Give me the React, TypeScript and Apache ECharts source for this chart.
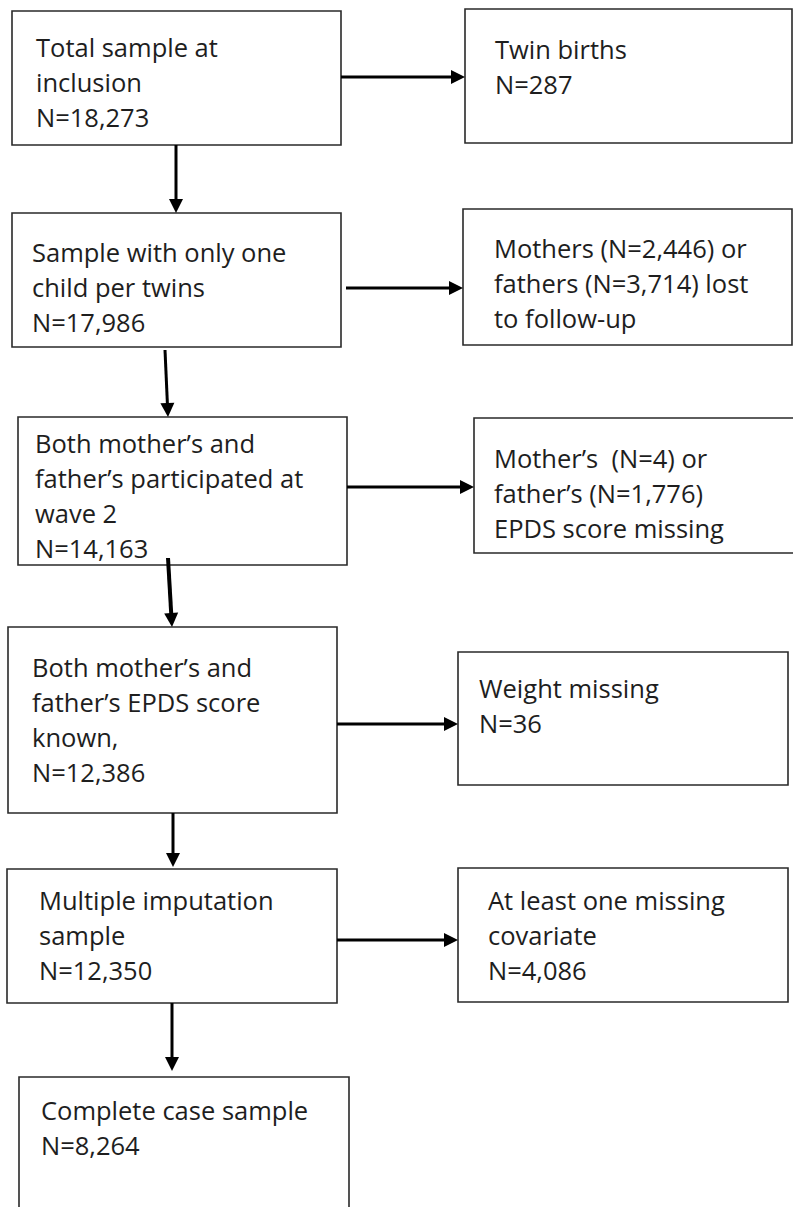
import React, { useEffect, useRef } from "react";
import * as echarts from "echarts";

// ---- data ----
const mainLabels = [
  "Total sample at\ninclusion",
  "Sample with only one\nchild per twins",
  "Both mother’s and\nfather’s participated at\nwave 2",
  "Both mother’s and\nfather’s EPDS score\nknown,",
  "Multiple imputation\nsample",
  "Complete case sample",
];
const mainCounts = ["18,273", "17,986", "14,163", "12,386", "12,350", "8,264"];

const exclusionLabels = [
  "Twin births",
  "Mothers (N=2,446) or\nfathers (N=3,714) lost\nto follow-up",
  "Mother’s  (N=4) or\nfather’s (N=1,776)\nEPDS score missing",
  "Weight missing",
  "At least one missing\ncovariate",
];
const exclusionCounts = ["287", "", "", "36", "4,086"];

// ---- layout (positions only) ----
// [left, top, right, bottom, textX, firstLineCenterY]
const mainBoxes = [
  [12, 11, 341, 145, 36, 47],
  [12, 213, 341, 347, 32, 252],
  [18, 417, 347, 565, 35, 443],
  [8, 627, 337, 813, 32, 667],
  [7, 869, 337, 1003, 39, 900],
  [19, 1077, 349, 1240, 41, 1110],
];
const exclusionBoxes = [
  [465, 9, 792, 143, 495, 49],
  [463, 209, 792, 345, 494, 248],
  [474, 418, 830, 553, 494, 458],
  [458, 652, 788, 785, 479, 688],
  [458, 868, 788, 1002, 488, 900],
];
// [x1, y1, x2, y2, width]
const arrows = [
  [341, 77, 465, 77, 3],
  [176, 145, 176, 213, 3],
  [346, 288, 463, 288, 3],
  [165, 350, 168, 417, 3],
  [347, 487, 474, 487, 3],
  [168, 558, 172, 627, 4],
  [337, 724, 458, 724, 3],
  [173, 813, 173, 867, 3],
  [337, 940, 458, 940, 3],
  [172, 1003, 172, 1071, 3],
];

const FONT = "25.5px 'Open Sans'";
const LH = 35;
const TEXT_COLOR = "#1e1e1e";
const BORDER = "#2a2a2a";

function boxElements(b: number[], text: string) {
  const [l, t, r, bt, tx, ty] = b;
  return [
    {
      type: "rect",
      shape: { x: l, y: t, width: r - l, height: bt - t },
      style: { fill: "#fff", stroke: BORDER, lineWidth: 1.6 },
      z: 1,
    },
    {
      type: "text",
      x: tx,
      y: ty - LH / 2,
      style: {
        text,
        font: FONT,
        lineHeight: LH,
        fill: TEXT_COLOR,
        align: "left",
        verticalAlign: "top",
      },
      z: 3,
    },
  ];
}

function arrowElements(a: number[]) {
  const [x1, y1, x2, y2, w] = a;
  const dx = x2 - x1;
  const dy = y2 - y1;
  const len = Math.sqrt(dx * dx + dy * dy);
  const ux = dx / len;
  const uy = dy / len;
  const head = 14;
  const half = 7;
  const bx = x2 - ux * head;
  const by = y2 - uy * head;
  return [
    {
      type: "line",
      shape: { x1, y1, x2: bx + ux * 1, y2: by + uy * 1 },
      style: { stroke: "#000", lineWidth: w },
      z: 2,
    },
    {
      type: "polygon",
      shape: {
        points: [
          [x2, y2],
          [bx - uy * half, by + ux * half],
          [bx + uy * half, by - ux * half],
        ],
      },
      style: { fill: "#000" },
      z: 2,
    },
  ];
}

export default function App() {
  const ref = useRef<HTMLDivElement>(null);
  useEffect(() => {
    if (!ref.current) return;
    const chart = echarts.init(ref.current, null, { renderer: "svg" });
    const elements: any[] = [];
    mainLabels.forEach((lab, i) => {
      elements.push(...boxElements(mainBoxes[i], lab + "\nN=" + mainCounts[i]));
    });
    exclusionLabels.forEach((lab, i) => {
      const txt = exclusionCounts[i] ? lab + "\nN=" + exclusionCounts[i] : lab;
      elements.push(...boxElements(exclusionBoxes[i], txt));
    });
    arrows.forEach((a) => elements.push(...arrowElements(a)));
    chart.setOption({
      animation: false,
      backgroundColor: "#ffffff",
      graphic: { elements },
    });
    return () => chart.dispose();
  }, []);
  return (
    <div
      ref={ref}
      style={{ position: "absolute", left: 0, top: 0, width: 793, height: 1207 }}
    />
  );
}
